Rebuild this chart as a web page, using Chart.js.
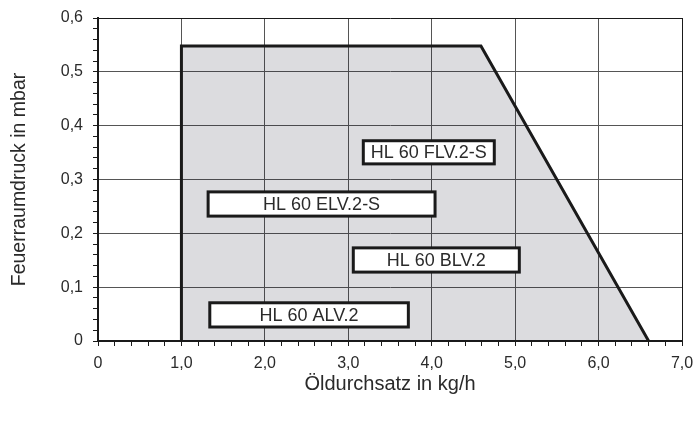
<!DOCTYPE html>
<html>
<head>
<meta charset="utf-8">
<script src="https://cdn.jsdelivr.net/npm/chart.js@4"></script>
<style>
    body { margin: 0; background: #fff; }
    #wrap { width: 696px; height: 423px; }
</style>
</head>
<body>
<div id="wrap"><canvas id="chart"></canvas></div>
<script>
// Arbeitsfeld (Eckpunkte des Kennfelds)
const fieldX = [1.0, 1.0, 4.59, 6.6];
const fieldY = [0, 0.548, 0.548, 0];

// Brenner-Beschriftungen
const labelNames = ['HL 60 FLV.2-S', 'HL 60 ELV.2-S', 'HL 60 BLV.2', 'HL 60 ALV.2'];
const labelXFrom = [3.18, 1.32, 3.06, 1.34];
const labelXTo = [4.75, 4.04, 5.05, 3.72];
const labelYTop = [0.372, 0.277, 0.173, 0.071];
const labelYBottom = [0.329, 0.232, 0.128, 0.026];

const xMin = 0, xMax = 7, xStep = 0.2;
const yMin = 0, yMax = 0.6, yStep = 0.02;

const FONT = '"Liberation Sans", Arial, sans-serif';

function isMajor(v, unit) {
    return Math.abs(v / unit - Math.round(v / unit)) < 1e-6;
}
function fmt(v) {
    if (Math.abs(v) < 1e-9) return '0';
    return v.toFixed(1).replace('.', ',');
}

const labelBoxes = {
    id: 'labelBoxes',
    afterDatasetsDraw(chart) {
        const ctx = chart.ctx;
        const x = chart.scales.x, y = chart.scales.y;
        ctx.save();
        ctx.font = '18px ' + FONT;
        ctx.textAlign = 'center';
        ctx.textBaseline = 'middle';
        labelNames.forEach((name, i) => {
            const x1 = x.getPixelForValue(labelXFrom[i]);
            const x2 = x.getPixelForValue(labelXTo[i]);
            const y1 = y.getPixelForValue(labelYTop[i]);
            const y2 = y.getPixelForValue(labelYBottom[i]);
            ctx.fillStyle = '#fff';
            ctx.fillRect(x1, y1, x2 - x1, y2 - y1);
            ctx.lineWidth = 3;
            ctx.strokeStyle = '#1a1a1a';
            ctx.strokeRect(x1, y1, x2 - x1, y2 - y1);
            ctx.fillStyle = '#2a2a2a';
            ctx.fillText(name, (x1 + x2) / 2, (y1 + y2) / 2 + 1);
        });
        ctx.restore();
    }
};

new Chart(document.getElementById('chart'), {
    type: 'scatter',
    data: {
        datasets: [{
            data: fieldX.map((v, i) => ({ x: v, y: fieldY[i] })),
            showLine: true,
            borderColor: '#1a1a1a',
            borderWidth: 3,
            backgroundColor: 'rgba(20,20,40,0.15)',
            fill: 'origin',
            pointRadius: 0,
            tension: 0
        }]
    },
    options: {
        responsive: true,
        maintainAspectRatio: false,
        animation: false,
        layout: { padding: { top: 18, right: 0, left: 0, bottom: 0 } },
        plugins: { legend: { display: false }, tooltip: { enabled: false } },
        scales: {
            x: {
                type: 'linear',
                min: xMin,
                max: xMax,
                afterFit: s => { s.height = 82; s.paddingRight = 14; s.paddingLeft = 0; },
                ticks: {
                    stepSize: xStep,
                    autoSkip: false,
                    maxRotation: 0,
                    padding: 8,
                    color: '#2a2a2a',
                    font: { family: FONT, size: 16 },
                    callback: v => isMajor(v, 1) ? fmt(v) : ''
                },
                grid: {
                    color: c => {
                        const v = c.tick ? c.tick.value : 0;
                        if (Math.abs(v - xMax) < 1e-6) return '#1a1a1a';
                        return isMajor(v, 1) ? '#555' : 'rgba(0,0,0,0)';
                    },
                    lineWidth: 1,
                    tickColor: '#1a1a1a',
                    tickLength: 5
                },
                border: { color: '#1a1a1a', width: 2 },
                title: {
                    display: true,
                    text: 'Öldurchsatz in kg/h',
                    color: '#2a2a2a',
                    font: { family: FONT, size: 20 },
                    padding: { top: 4, bottom: 27 }
                }
            },
            y: {
                type: 'linear',
                min: yMin,
                max: yMax,
                afterFit: s => { s.width = 98; s.paddingTop = 0; s.paddingBottom = 0; },
                ticks: {
                    stepSize: yStep,
                    autoSkip: false,
                    padding: 10,
                    color: '#2a2a2a',
                    font: { family: FONT, size: 16 },
                    callback: v => isMajor(v, 0.1) ? fmt(v) : ''
                },
                grid: {
                    color: c => {
                        const v = c.tick ? c.tick.value : 0;
                        if (Math.abs(v - yMax) < 1e-6) return '#1a1a1a';
                        return isMajor(v, 0.1) ? '#555' : 'rgba(0,0,0,0)';
                    },
                    lineWidth: 1,
                    tickColor: '#1a1a1a',
                    tickLength: 5
                },
                border: { color: '#1a1a1a', width: 2 },
                title: {
                    display: true,
                    text: 'Feuerraumdruck in mbar',
                    color: '#2a2a2a',
                    font: { family: FONT, size: 19.5 },
                    padding: { top: 8, bottom: 4 }
                }
            }
        }
    },
    plugins: [labelBoxes]
});
</script>
</body>
</html>
